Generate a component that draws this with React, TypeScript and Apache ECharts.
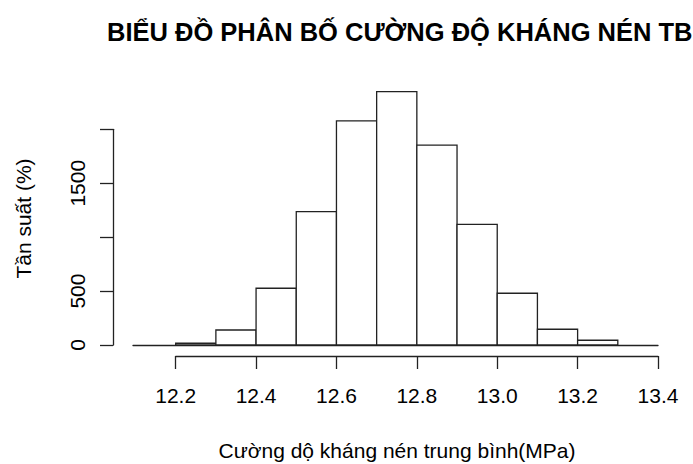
import React, { useEffect, useRef } from "react";
import * as echarts from "echarts";

const binStarts = [12.2, 12.3, 12.4, 12.5, 12.6, 12.7, 12.8, 12.9, 13.0, 13.1, 13.2];
const binWidth = 0.1;
const counts = [16, 139, 526, 1237, 2078, 2350, 1854, 1118, 480, 146, 44];
const yTicksShown = [0, 500, 1500];
const titleText = "BIỂU ĐỒ PHÂN BỐ CƯỜNG ĐỘ KHÁNG NÉN TB";
const xTitle = "Cường dộ kháng nén trung bình(MPa)";
const yTitle = "Tần suất (%)";

const FONT = "Liberation Sans, Arial, sans-serif";

export default function App() {
  const ref = useRef<HTMLDivElement>(null);
  useEffect(() => {
    if (!ref.current) return;
    const chart = echarts.init(ref.current, undefined, { renderer: "svg" });
    const data = binStarts.map((s, i) => [s, s + binWidth, counts[i]]);
    chart.setOption({
      animation: false,
      backgroundColor: "#fff",
      title: {
        text: titleText,
        left: 102,
        top: 14,
        textStyle: { fontFamily: FONT, fontSize: 25.5, fontWeight: "bold", color: "#000" },
      },
      grid: [
        { left: 133, right: 35, top: 129.3, bottom: 119 },
        { left: 175.7, right: 35, top: 355, height: 1 },
      ],
      xAxis: [
        {
          gridIndex: 0,
          type: "value",
          min: 12.0938,
          max: 13.4,
          axisLine: { show: true, onZero: false, lineStyle: { color: "#222", width: 1.3 } },
          axisTick: { show: false },
          axisLabel: { show: false },
          splitLine: { show: false },
        },
        {
          gridIndex: 1,
          type: "value",
          min: 12.2,
          max: 13.4,
          interval: 0.2,
          axisLine: { show: true, onZero: false, lineStyle: { color: "#222", width: 1.3 } },
          axisTick: { show: true, length: 13, lineStyle: { color: "#222", width: 1.3 } },
          axisLabel: {
            show: true,
            margin: 29,
            fontFamily: FONT,
            fontSize: 21,
            color: "#000",
            formatter: (v: number) => v.toFixed(1),
          },
          splitLine: { show: false },
        },
      ],
      yAxis: [
        {
          gridIndex: 0,
          type: "value",
          min: 0,
          max: 2000,
          interval: 500,
          offset: 20,
          axisLine: { show: true, lineStyle: { color: "#222", width: 1.3 } },
          axisTick: { show: true, length: 13, lineStyle: { color: "#222", width: 1.3 } },
          axisLabel: {
            show: true,
            rotate: 90,
            margin: 25,
            fontFamily: FONT,
            fontSize: 21,
            color: "#000",
            formatter: (v: number) => (yTicksShown.includes(v) ? String(v) : ""),
          },
          splitLine: { show: false },
        },
        {
          gridIndex: 1,
          type: "value",
          show: false,
        },
      ],
      graphic: [
        {
          type: "text",
          x: 23,
          y: 218.5,
          rotation: Math.PI / 2,
          style: {
            text: yTitle,
            fontFamily: FONT,
            fontSize: 21,
            fill: "#000",
            textAlign: "center",
            textVerticalAlign: "middle",
          },
        },
        {
          type: "text",
          x: 397,
          y: 450,
          style: {
            text: xTitle,
            fontFamily: FONT,
            fontSize: 21,
            fill: "#000",
            textAlign: "center",
            textVerticalAlign: "middle",
          },
        },
      ],
      series: [
        {
          type: "custom",
          xAxisIndex: 0,
          yAxisIndex: 0,
          clip: false,
          data,
          renderItem: (params: any, api: any) => {
            const p0 = api.coord([api.value(0), api.value(2)]);
            const p1 = api.coord([api.value(1), 0]);
            return {
              type: "rect",
              shape: { x: p0[0], y: p0[1], width: p1[0] - p0[0], height: p1[1] - p0[1] },
              style: { fill: "#fff", stroke: "#222", lineWidth: 1.3 },
            };
          },
        },
      ],
    });
    return () => chart.dispose();
  }, []);
  return (
    <div
      ref={ref}
      style={{ position: "absolute", left: 0, top: 0, width: 693, height: 464 }}
    />
  );
}
